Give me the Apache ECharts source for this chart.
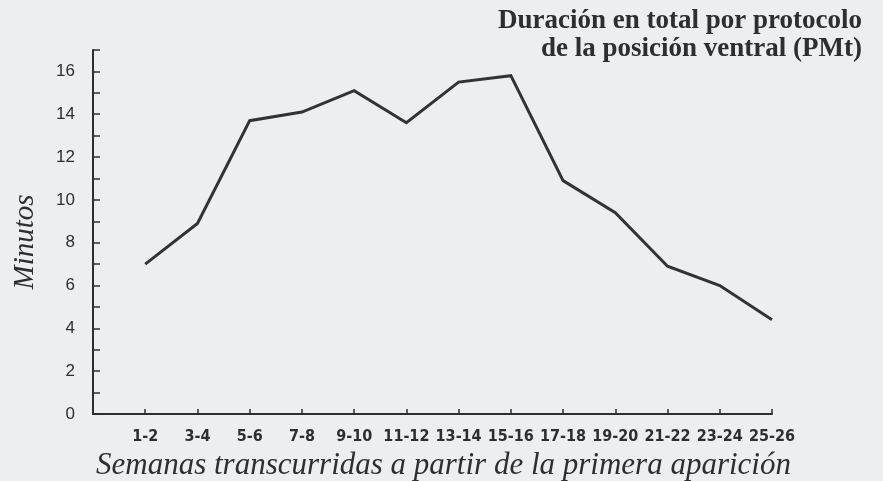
<!DOCTYPE html>
<html>
<head>
<meta charset="utf-8">
<script src="https://cdn.jsdelivr.net/npm/echarts@6/dist/echarts.min.js"></script>
<style>
html,body{margin:0;padding:0;background:#eceef2;}
#c{width:883px;height:481px;}
</style>
</head>
<body>
<div id="c"></div>
<script>
var categories = ['1-2','3-4','5-6','7-8','9-10','11-12','13-14','15-16','17-18','19-20','21-22','23-24','25-26'];
var minutos = [7.0, 8.9, 13.7, 14.1, 15.1, 13.6, 15.5, 15.8, 10.9, 9.4, 6.9, 6.0, 4.4];
var yTickLabels = [0, 2, 4, 6, 8, 10, 12, 14, 16];
var titleText = 'Duración en total por protocolo\nde la posición ventral (PMt)';

var chart = echarts.init(document.getElementById('c'), null, {renderer:'canvas'});
var ink = '#2e2e30';
chart.setOption({
  backgroundColor: '#eceef2',
  animation: false,
  graphic: [{
    type: 'text',
    right: 21, top: 7,
    style: {
      text: titleText,
      textAlign: 'right',
      fontFamily: 'Liberation Serif, DejaVu Serif, serif',
      fontWeight: 'bold', fontSize: 27, lineHeight: 28, fill: ink
    }
  }],
  grid: {left: 93, right: 111, top: 50, bottom: 67, containLabel: false, outerBoundsMode: 'none'},
  xAxis: {
    type: 'category',
    boundaryGap: false,
    data: [''].concat(categories),
    axisLine: {lineStyle: {color: ink, width: 2}},
    axisTick: {inside: true, length: 5, lineStyle: {color: ink, width: 1.5}},
    axisLabel: {
      color: ink, margin: 15,
      fontFamily: 'Liberation Sans Narrow, DejaVu Sans Condensed, sans-serif',
      fontWeight: 'bold', fontSize: 16, interval: 0
    },
    name: 'Semanas transcurridas a partir de la primera aparición',
    nameLocation: 'middle', nameGap: 33,
    nameTextStyle: {
      fontFamily: 'Liberation Serif, DejaVu Serif, serif',
      fontStyle: 'italic', fontSize: 31, color: ink, padding: [0,0,0,22]
    }
  },
  yAxis: {
    type: 'value', min: 0, max: 17, interval: 1,
    axisLine: {show: true, lineStyle: {color: ink, width: 2}},
    axisTick: {show: true, inside: true, length: 7, lineStyle: {color: ink, width: 1.5}},
    splitLine: {show: false},
    axisLabel: {
      color: ink, margin: 18,
      fontFamily: 'Liberation Sans, Arial, sans-serif',
      fontSize: 17,
      formatter: function (v) { return yTickLabels.indexOf(v) >= 0 ? String(v) : ''; }
    },
    name: 'Minutos',
    nameLocation: 'middle', nameGap: 53, nameRotate: 90,
    nameTextStyle: {
      fontFamily: 'Liberation Serif, DejaVu Serif, serif',
      fontStyle: 'italic', fontSize: 29, color: ink, padding: [0,20,0,0]
    }
  },
  series: [{
    type: 'line',
    data: [null].concat(minutos),
    symbol: 'none',
    connectNulls: false,
    lineStyle: {color: '#333336', width: 3, join: 'miter'}
  }]
});
</script>
</body>
</html>
